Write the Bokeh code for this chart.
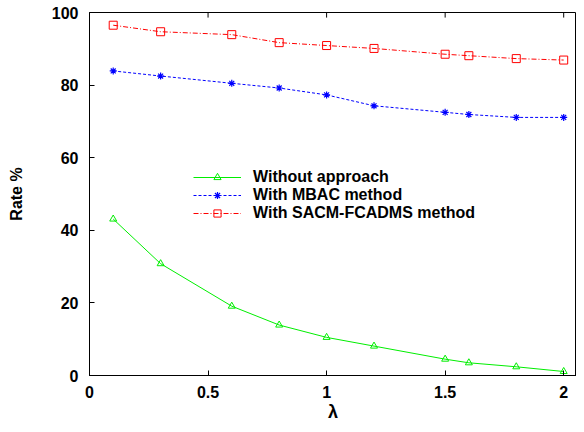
from bokeh.plotting import figure
from bokeh.models import Range1d, FixedTicker, Legend
from bokeh.embed import file_html
from bokeh.resources import INLINE

lam = [0.1, 0.3, 0.6, 0.8, 1.0, 1.2, 1.5, 1.6, 1.8, 2.0]
without_approach = [43.1, 30.8, 19.1, 13.9, 10.5, 8.1, 4.5, 3.5, 2.4, 1.1]
mbac = [83.9, 82.5, 80.5, 79.2, 77.3, 74.3, 72.5, 71.9, 71.1, 71.1]
sacm = [96.5, 94.7, 93.9, 91.7, 90.9, 90.1, 88.5, 88.1, 87.3, 86.9]
x_ticks = [0, 0.5, 1, 1.5, 2]
y_ticks = [0, 20, 40, 60, 80, 100]

FONT = "Liberation Sans"

p = figure(width=576, height=424, output_backend="svg", toolbar_location=None,
           x_range=Range1d(0, 2.054), y_range=Range1d(0, 100),
           min_border_left=89, min_border_right=0, min_border_top=12, min_border_bottom=49)
p.xgrid.visible = False
p.ygrid.visible = False
p.outline_line_color = "black"
p.outline_line_width = 1
p.background_fill_color = "white"
p.border_fill_color = "white"

# mirrored tick marks on the top edge
p.segment(x0=x_ticks[1:], y0=[y_ticks[-1]] * 4, x1=x_ticks[1:], y1=[y_ticks[-1] - 1.4] * 4,
          line_color="black", line_width=1)

r1 = p.line(lam, without_approach, line_color="#00ee00", line_width=1)
s1 = p.scatter(lam, without_approach, marker="triangle", size=7, line_color="#00ee00",
               fill_color=None, line_width=1)
r2 = p.line(lam, mbac, line_color="#0000ff", line_width=1, line_dash="3 2")
s2 = p.scatter(lam, mbac, marker="asterisk", size=7, line_color="#0000ff", line_width=1.2)
r3 = p.line(lam, sacm, line_color="#ff0000", line_width=1, line_dash="5 2 1 2")
s3 = p.scatter(lam, sacm, marker="square", size=8, line_color="#ff0000",
               fill_color=None, line_width=1)

for ax in (p.xaxis[0], p.yaxis[0]):
    ax.major_label_text_font = FONT
    ax.major_label_text_font_style = "bold"
    ax.major_label_text_font_size = "16px"
    ax.major_label_text_color = "black"
    ax.axis_label_text_font = FONT
    ax.axis_label_text_font_style = "bold"
    ax.axis_label_text_font_size = "16px"
    ax.axis_label_text_color = "black"
    ax.major_tick_in = 5
    ax.major_tick_out = 0
    ax.minor_tick_line_color = None
    ax.axis_line_color = "black"
    ax.major_tick_line_color = "black"

p.xaxis[0].ticker = FixedTicker(ticks=x_ticks)
p.yaxis[0].ticker = FixedTicker(ticks=y_ticks)
p.xaxis[0].axis_label = "λ"
p.yaxis[0].axis_label = "Rate %"
p.xaxis[0].axis_label_text_font_size = "18px"
p.xaxis[0].major_label_standoff = 10
p.yaxis[0].major_label_standoff = 11
p.xaxis[0].axis_label_standoff = 1
p.yaxis[0].axis_label_standoff = 24

legend = Legend(items=[("Without approach", [r1, s1]),
                       ("With MBAC method", [r2, s2]),
                       ("With SACM-FCADMS method", [r3, s3])],
                location=(104, 153))
legend.label_text_font = FONT
legend.label_text_font_style = "bold"
legend.label_text_font_size = "16px"
legend.label_text_color = "black"
legend.border_line_color = None
legend.background_fill_alpha = 0
legend.padding = 0
legend.margin = 0
legend.spacing = 0
legend.glyph_width = 48
legend.glyph_height = 18
legend.label_height = 18
legend.label_standoff = 12
p.add_layout(legend, "center")

open("out.html", "w").write(file_html(p, INLINE))
